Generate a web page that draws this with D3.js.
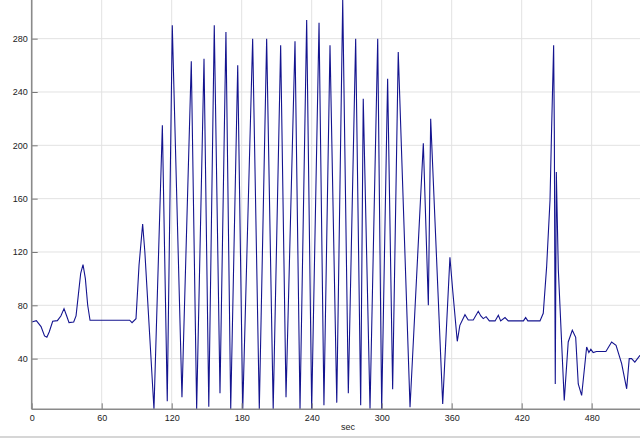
<!DOCTYPE html>
<html>
<head>
<meta charset="utf-8">
<script src="https://cdn.jsdelivr.net/npm/d3@7"></script>
<style>
  html, body { margin: 0; padding: 0; background: #fff; }
  svg { display: block; }
  .tick text { font-family: "Liberation Sans", Arial, sans-serif; font-size: 9px; fill: #222; }
</style>
</head>
<body>
<svg id="chart" width="640" height="438"></svg>
<script>
// ---- data (seconds, value) ----
const times = [
  0, 4, 8, 11, 13, 15, 18, 22, 25, 27.7, 30, 32, 36, 38, 40, 42, 44, 46, 48, 50,
  84, 86, 89.4, 92, 95.1, 97, 104.8,
  112, 116.2, 120.5, 128.8, 136.8, 141.4, 147.7, 151.8, 156.5, 161.4, 166.5, 170.6,
  176.6, 180.9, 189.4, 195.1, 201.4, 207, 213.4, 218, 225.7, 230, 235.7, 240,
  246.3, 250.5, 255.7, 261.5, 266.6, 271.4, 277.7, 282, 284.2, 290, 296.6, 300,
  305.1, 309.4, 314.2, 324.3, 335.7, 340, 342, 352.3, 358.5, 361, 364.8, 367,
  371.4, 374.2, 378.5, 382.8, 385, 387.1, 389.5, 392.3, 397.2, 400, 402, 405.7,
  408.5, 421.5, 423.4, 425.3, 435.7, 438.5, 441.4, 444.3, 445.7, 447.4, 448,
  448.5, 448.8, 449.7, 451.4, 456.5, 459.9, 463.4, 466.3, 468.5, 471.4, 475.7,
  477.6, 479.3, 481.3, 484.1, 492.2, 497.1, 500.9, 505.7, 510, 512.2, 514.2, 517, 521.4
];
const values = [
  67.5, 68.5, 64, 57, 56, 60, 68, 68.5, 72, 77.5, 72, 67, 67.5, 72, 88, 104, 110.5, 100, 80, 68.8,
  68.8, 67, 70, 110, 141, 120, 2,
  215, 8, 290, 11, 263, 2, 265, 4, 290, 14, 285, 2,
  260, 2, 280, 2, 280, 2, 275, 11, 278, 2, 294, 2,
  292, 5, 275, 7, 309, 14, 280, 5, 235, 2.4, 280, 2,
  250, 17, 270, 3.6, 201.5, 80, 220, 6, 116, 90, 53, 65,
  73, 69, 69, 75.5, 72, 70, 71.5, 68.3, 68.3, 72.5, 68.3, 70.8,
  68.3, 68.3, 70.8, 68.3, 68.3, 74, 109, 159, 214, 275, 211,
  84, 21, 180, 107, 8.6, 52.5, 61.3, 56, 21, 12.4, 48.7,
  44.6, 47, 44.6, 45.4, 45.4, 52.5, 50, 36.2, 17.4, 40, 40, 37.4, 42.5
];
const xTicks = [0, 60, 120, 180, 240, 300, 360, 420, 480, 540];
const yTicks = [40, 80, 120, 160, 200, 240, 280];
const xLabel = "sec";

// ---- layout ----
const svg = d3.select("#chart");
const W = 640, H = 438;
const left = 31.7, bottom = 409.3;

const x = d3.scaleLinear().domain([0, 542]).range([left, 664]);
const y = d3.scaleLinear().domain([2, 309]).range([bottom, 0]);

// grid
const grid = svg.append("g");
grid.selectAll("line.v").data(xTicks).join("line")
  .attr("x1", d => x(d)).attr("x2", d => x(d))
  .attr("y1", 0).attr("y2", bottom)
  .attr("stroke", "#e2e2e2").attr("stroke-width", 1);
grid.selectAll("line.h").data(yTicks).join("line")
  .attr("x1", left).attr("x2", W)
  .attr("y1", d => y(d)).attr("y2", d => y(d))
  .attr("stroke", "#e2e2e2").attr("stroke-width", 1);

// line
svg.append("clipPath").attr("id", "clip").append("rect")
  .attr("x", left).attr("y", 0).attr("width", W - left).attr("height", bottom);
const pts = times.map((t, i) => [t, values[i]]);
svg.append("path")
  .datum(pts)
  .attr("clip-path", "url(#clip)")
  .attr("fill", "none")
  .attr("stroke", "#14148f")
  .attr("stroke-width", 1.1)
  .attr("stroke-linejoin", "miter")
  .attr("d", d3.line().x(d => x(d[0])).y(d => y(d[1])));

// axes
const xAxis = svg.append("g").attr("transform", `translate(0,${bottom})`)
  .call(d3.axisBottom(x).tickValues(xTicks.filter(d => x(d) <= W)).tickSize(-6).tickPadding(5).tickFormat(d3.format("d")));
const yAxis = svg.append("g").attr("transform", `translate(${left},0)`)
  .call(d3.axisLeft(y).tickValues(yTicks).tickSize(-6).tickPadding(4).tickFormat(d3.format("d")));
[xAxis, yAxis].forEach(g => {
  g.select(".domain").remove();
  g.selectAll(".tick line").attr("stroke", "#777").attr("stroke-width", 1);
});

// axis lines
svg.append("line").attr("x1", left).attr("x2", W).attr("y1", bottom).attr("y2", bottom)
  .attr("stroke", "#8a8a8a").attr("stroke-width", 1.6);
svg.append("line").attr("x1", left).attr("x2", left).attr("y1", 0).attr("y2", bottom)
  .attr("stroke", "#8a8a8a").attr("stroke-width", 1.6);

// x label
svg.append("text").attr("x", 348).attr("y", 430)
  .attr("text-anchor", "middle")
  .attr("font-family", "Liberation Sans, Arial, sans-serif")
  .attr("font-size", 9).attr("fill", "#222").text(xLabel);

// bottom frame strip
svg.append("rect").attr("x", 0).attr("y", 436).attr("width", W).attr("height", 2).attr("fill", "#d6d6d6");
</script>
</body>
</html>
